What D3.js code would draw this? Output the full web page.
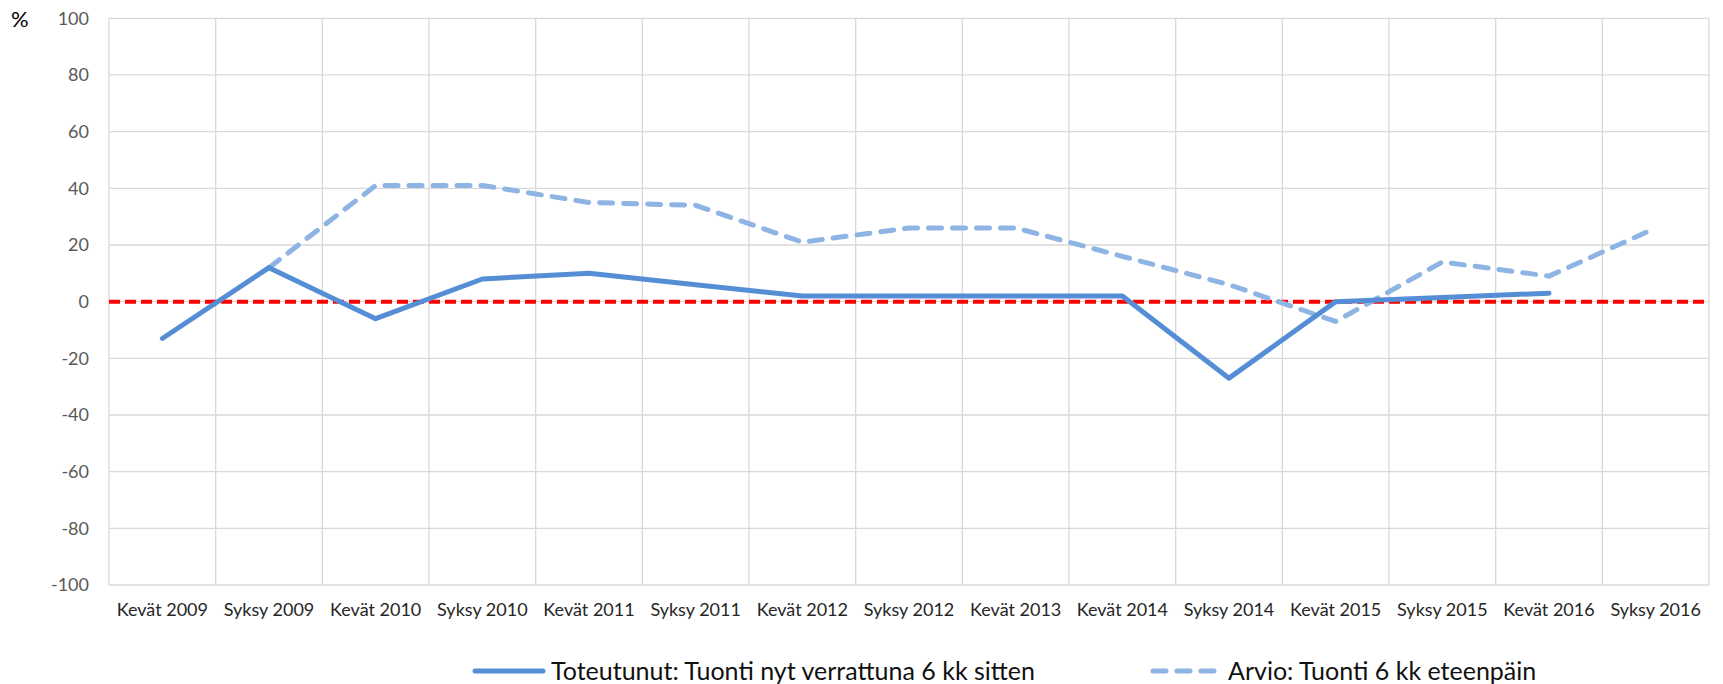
<!DOCTYPE html>
<html>
<head>
<meta charset="utf-8">
<script src="https://cdn.jsdelivr.net/npm/d3@7"></script>
<style>
  body { margin: 0; background: #fff; }
  svg { display: block; font-family: Lato, "Open Sans", sans-serif; }
</style>
</head>
<body>
<svg id="chart"></svg>
<script>
var categories = [
  "Kevät 2009", "Syksy 2009", "Kevät 2010", "Syksy 2010", "Kevät 2011",
  "Syksy 2011", "Kevät 2012", "Syksy 2012", "Kevät 2013", "Kevät 2014",
  "Syksy 2014", "Kevät 2015", "Syksy 2015", "Kevät 2016", "Syksy 2016"
];
// Toteutunut: Tuonti nyt verrattuna 6 kk sitten
var actual = [-13, 12, -6, 8, 10, 6, 2, 2, 2, 2, -27, 0, 1.5, 3, null];
// Arvio: Tuonti 6 kk eteenpäin
var forecast = [null, 12, 41, 41, 35, 34, 21, 26, 26, 16, 6, -7, 14, 9, 26];
var yTicks = [100, 80, 60, 40, 20, 0, -20, -40, -60, -80, -100];
var seriesNames = ["Toteutunut: Tuonti nyt verrattuna 6 kk sitten", "Arvio: Tuonti 6 kk eteenpäin"];

var W = 1723, H = 684;
var margin = { top: 18.3, right: 14, bottom: 99, left: 109 },
  width = W - margin.left - margin.right,
  height = H - margin.top - margin.bottom;

var svg = d3.select("#chart").attr("width", W).attr("height", H);
var g = svg.append("g").attr("transform", `translate(${margin.left}, ${margin.top})`);

var x = d3.scaleBand().domain(categories).range([0, width]).padding(0);
var y = d3.scaleLinear().domain([-100, 100]).range([height, 0]);
var cx = d => x(d) + x.bandwidth() / 2;

var gridColor = "#d9d9d9";

// horizontal gridlines
g.append("g")
  .selectAll("line")
  .data(yTicks)
  .join("line")
  .attr("x1", 0)
  .attr("x2", width)
  .attr("y1", d => y(d))
  .attr("y2", d => y(d))
  .attr("stroke", gridColor)
  .attr("stroke-width", 1.3);

// vertical gridlines at category boundaries
var bounds = categories.map(d => x(d)).concat([width]);
g.append("g")
  .selectAll("line")
  .data(bounds)
  .join("line")
  .attr("x1", d => d)
  .attr("x2", d => d)
  .attr("y1", 0)
  .attr("y2", height)
  .attr("stroke", gridColor)
  .attr("stroke-width", 1.3);

// y axis labels (plain hyphen for negatives, like the original)
var yAxis = g.append("g")
  .call(d3.axisLeft(y).tickValues(yTicks).tickSize(0).tickPadding(20).tickFormat(d => String(d)));
yAxis.select(".domain").remove();
yAxis.selectAll("text")
  .attr("font-size", "18px")
  .attr("font-family", "Lato, sans-serif")
  .attr("fill", "#595959");

// x axis labels
var xAxis = g.append("g")
  .attr("transform", `translate(0, ${height})`)
  .call(d3.axisBottom(x).tickSize(0).tickPadding(18));
xAxis.select(".domain").remove();
xAxis.selectAll("text")
  .attr("font-size", "18px")
  .attr("font-family", "Lato, sans-serif")
  .attr("fill", "#262626");

// % label
svg.append("text")
  .attr("x", 11)
  .attr("y", 27)
  .text("%")
  .attr("font-size", "22px")
  .attr("fill", "#000");

// zero reference line
g.append("line")
  .attr("x1", 0)
  .attr("x2", width)
  .attr("y1", y(0))
  .attr("y2", y(0))
  .attr("stroke", "#ff0000")
  .attr("stroke-width", 4)
  .attr("stroke-dasharray", "11,5");

var line = d3.line()
  .defined(d => d.v !== null)
  .x(d => cx(d.c))
  .y(d => y(d.v));

var actualData = categories.map((c, i) => ({ c: c, v: actual[i] }));
var forecastData = categories.map((c, i) => ({ c: c, v: forecast[i] }));

var solidColor = "#558ed5";
var dashColor = "#8eb4e3";

g.append("path")
  .datum(forecastData)
  .attr("d", line)
  .attr("fill", "none")
  .attr("stroke", dashColor)
  .attr("stroke-width", 5)
  .attr("stroke-linecap", "round")
  .attr("stroke-linejoin", "round")
  .attr("stroke-dasharray", "13,11");

g.append("path")
  .datum(actualData)
  .attr("d", line)
  .attr("fill", "none")
  .attr("stroke", solidColor)
  .attr("stroke-width", 5)
  .attr("stroke-linecap", "round")
  .attr("stroke-linejoin", "round");

// legend
var legend = svg.append("g").attr("class", "legend");
var legendY = 671;

legend.append("line")
  .attr("x1", 475).attr("x2", 543)
  .attr("y1", legendY).attr("y2", legendY)
  .attr("stroke", solidColor)
  .attr("stroke-width", 5)
  .attr("stroke-linecap", "round");

legend.append("text")
  .attr("x", 551)
  .attr("y", 679.5)
  .text(seriesNames[0])
  .attr("font-size", "25px")
  .attr("fill", "#111");

legend.append("line")
  .attr("x1", 1153).attr("x2", 1215)
  .attr("y1", legendY).attr("y2", legendY)
  .attr("stroke", dashColor)
  .attr("stroke-width", 5)
  .attr("stroke-linecap", "round")
  .attr("stroke-dasharray", "13,11");

legend.append("text")
  .attr("x", 1228)
  .attr("y", 679.5)
  .text(seriesNames[1])
  .attr("font-size", "25px")
  .attr("fill", "#111");
</script>
</body>
</html>
